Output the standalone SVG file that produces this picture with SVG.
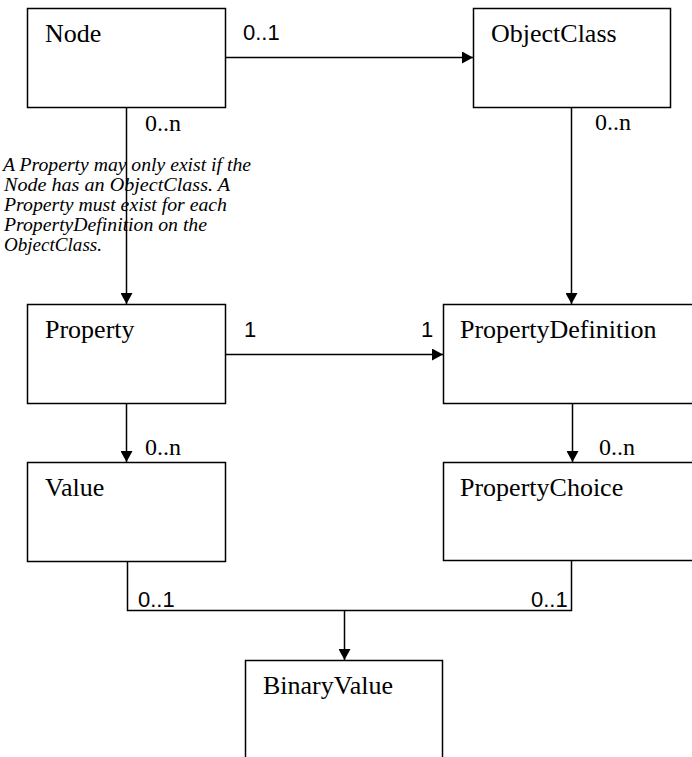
<svg xmlns="http://www.w3.org/2000/svg" width="692" height="757" viewBox="0 0 692 757">
<style>
.box{fill:#fff;stroke:#000;stroke-width:1.5}
.lbl{font-family:"Liberation Serif",serif;font-size:26px;fill:#000}
.mul{font-family:"Liberation Serif",serif;font-size:24px;fill:#000}
.one{font-family:"Liberation Sans",sans-serif;font-size:22px;fill:#000}
.note{font-family:"Liberation Serif",serif;font-size:19px;font-style:italic;fill:#000}
.con{fill:none;stroke:#000;stroke-width:1.5}
</style>
<defs>
<marker id="arr" markerUnits="userSpaceOnUse" markerWidth="12" markerHeight="12" refX="11" refY="6" orient="auto">
<path d="M0,0 L11,6 L0,12 z" fill="#000"/>
</marker>
</defs>
<rect width="692" height="757" fill="#fff"/>
<g id="note">
<text class="note" x="3" y="171" textLength="248" lengthAdjust="spacingAndGlyphs">A Property may only exist if the</text>
<text class="note" x="4" y="191" textLength="226" lengthAdjust="spacingAndGlyphs">Node has an ObjectClass.  A</text>
<text class="note" x="4" y="211" textLength="223" lengthAdjust="spacingAndGlyphs">Property must exist for each</text>
<text class="note" x="4" y="231" textLength="203" lengthAdjust="spacingAndGlyphs">PropertyDefinition on the</text>
<text class="note" x="4" y="251" textLength="98" lengthAdjust="spacingAndGlyphs">ObjectClass.</text>
</g>
<g id="node-Node"><rect class="box" x="27.5" y="8.5" width="198" height="99"/><text class="lbl" x="45" y="42">Node</text></g>
<g id="node-ObjectClass"><rect class="box" x="473.5" y="8.5" width="197" height="99"/><text class="lbl" x="491" y="42">ObjectClass</text></g>
<g id="node-Property"><rect class="box" x="27.5" y="304.5" width="198" height="99"/><text class="lbl" x="45" y="338">Property</text></g>
<g id="node-PropertyDefinition"><rect class="box" x="443.5" y="304.5" width="260" height="99"/><text class="lbl" x="460" y="338">PropertyDefinition</text></g>
<g id="node-Value"><rect class="box" x="27.5" y="462.5" width="198" height="99"/><text class="lbl" x="45" y="496">Value</text></g>
<g id="node-PropertyChoice"><rect class="box" x="443.5" y="462.5" width="260" height="98"/><text class="lbl" x="460" y="496">PropertyChoice</text></g>
<g id="node-BinaryValue"><rect class="box" x="245.5" y="660.5" width="197" height="120"/><text class="lbl" x="263" y="694">BinaryValue</text></g>
<g id="connectors">
<path class="con" d="M225.5,57.5 H473" marker-end="url(#arr)"/>
<path class="con" d="M126.5,107.5 V304" marker-end="url(#arr)"/>
<path class="con" d="M571.5,107.5 V304" marker-end="url(#arr)"/>
<path class="con" d="M225.5,354.5 H443" marker-end="url(#arr)"/>
<path class="con" d="M126.5,403.5 V462" marker-end="url(#arr)"/>
<path class="con" d="M572.5,403.5 V462" marker-end="url(#arr)"/>
<path class="con" d="M127.5,561.5 V610.5 H571.5 V560.5"/>
<path class="con" d="M344.5,610.5 V660" marker-end="url(#arr)"/>
</g>
<g id="labels">
<text class="one" x="243" y="40">0..1</text>
<text class="mul" x="145" y="131">0..n</text>
<text class="mul" x="595" y="130">0..n</text>
<text class="one" x="244" y="337">1</text>
<text class="one" x="421" y="337">1</text>
<text class="mul" x="145" y="455">0..n</text>
<text class="mul" x="599" y="455">0..n</text>
<text class="one" x="138" y="607">0..1</text>
<text class="one" x="531" y="607">0..1</text>
</g>
</svg>
